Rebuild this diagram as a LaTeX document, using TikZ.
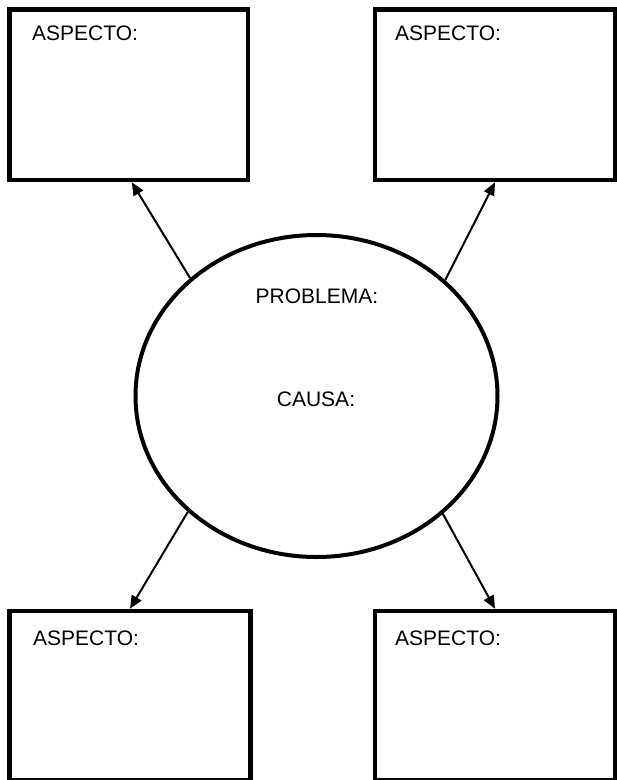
\documentclass[tikz,border=0pt]{standalone}
\usepackage{fontspec}
\setmainfont{Liberation Sans}
\usetikzlibrary{arrows.meta,shapes.geometric}
\begin{document}
\begin{tikzpicture}[x=1pt,y=-1pt,
  box/.style={draw=black,line width=4.5pt,rectangle,inner sep=0pt},
  lbl/.style={inner sep=0pt,font=\fontsize{21}{25}\selectfont},
  conn/.style={line width=2pt,-{Triangle[length=13pt,width=11pt]}}]
\useasboundingbox (0,0) rectangle (617,780);
\fill[white] (0,0) rectangle (617,780);
% boxes
\node[box,minimum width=238.5pt,minimum height=170.5pt] (tl) at (128.75,94.75) {};
\node[box,minimum width=240pt,minimum height=170.5pt] (tr) at (495,94.75) {};
\node[box,minimum width=241pt,minimum height=169pt] (bl) at (130,695.5) {};
\node[box,minimum width=240pt,minimum height=169pt] (br) at (495,695.5) {};
% labels
\node[lbl,anchor=base west] (tlt) at (32,40) {ASPECTO:};
\node[lbl,anchor=base west] (trt) at (395,40) {ASPECTO:};
\node[lbl,anchor=base west] (blt) at (33,645) {ASPECTO:};
\node[lbl,anchor=base west] (brt) at (395,645) {ASPECTO:};
% ellipse
\node[ellipse,draw=black,line width=4pt,inner sep=0pt,minimum width=362pt,minimum height=322pt] (ell) at (316.5,396) {};
\node[lbl,anchor=base] (prob) at (317,303) {PROBLEMA:};
\node[lbl,anchor=base] (causa) at (316,406) {CAUSA:};
% connectors
\draw[conn] (ell.137.9) -- ([xshift=3pt]tl.south);
\draw[conn] (ell.42.1) -- (tr.south);
\draw[conn] (ell.222.3) -- (bl.north);
\draw[conn] (ell.317.7) -- (br.north);
\end{tikzpicture}
\end{document}
